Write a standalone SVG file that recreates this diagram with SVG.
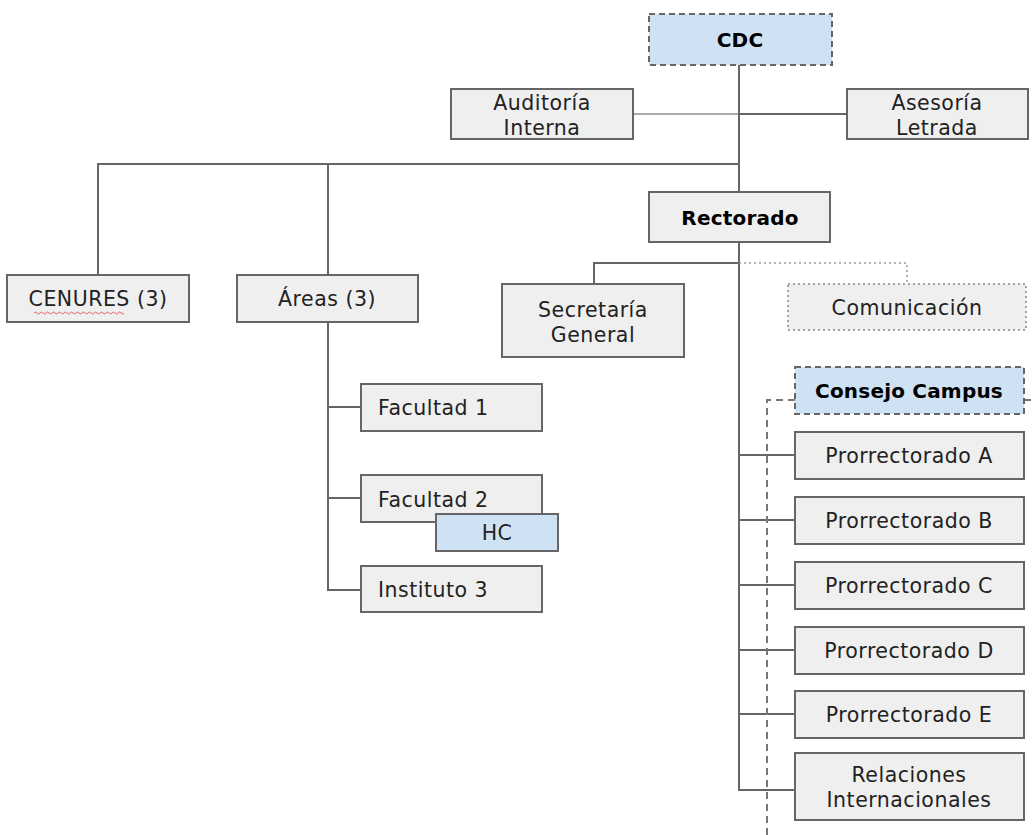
<svg xmlns="http://www.w3.org/2000/svg" width="1036" height="835" viewBox="0 0 1036 835">
<style>
.box{fill:#efefef;stroke:#666;stroke-width:2}
.blue{fill:#cfe2f3;stroke:#666;stroke-width:2;stroke-dasharray:6 4}
.dot{fill:#efefef;stroke:#888;stroke-width:1.5;stroke-dasharray:2 3}
.ln{stroke:#666;stroke-width:2;fill:none}
.lt{stroke:#aaa;stroke-width:2;fill:none}
.dsh{stroke:#777;stroke-width:2;fill:none;stroke-dasharray:7 5}
.dt{stroke:#999;stroke-width:1.5;fill:none;stroke-dasharray:2 3}
text{font-family:"DejaVu Sans","Open Sans",sans-serif;font-size:20.5px;letter-spacing:0.5px;fill:#222;text-anchor:middle;dominant-baseline:central}
.b{font-weight:bold;fill:#000;font-size:20px;letter-spacing:0.2px}
.l{text-anchor:start}
</style>
<rect width="1036" height="835" fill="#fff"/>
<g id="connectors">
<line class="lt" x1="633" y1="114" x2="739" y2="114"/>
<line class="ln" x1="739" y1="114" x2="847" y2="114"/>
<line class="ln" x1="739" y1="65" x2="739" y2="192"/>
<polyline class="ln" points="98,275 98,164 739,164"/>
<line class="ln" x1="328" y1="164" x2="328" y2="275"/>
<line class="ln" x1="739" y1="242" x2="739" y2="791"/>
<polyline class="ln" points="594,284 594,263 739,263"/>
<polyline class="dt" points="739,263 907,263 907,284"/>
<line class="ln" x1="739" y1="455" x2="795" y2="455"/>
<line class="ln" x1="739" y1="520" x2="795" y2="520"/>
<line class="ln" x1="739" y1="585" x2="795" y2="585"/>
<line class="ln" x1="739" y1="650" x2="795" y2="650"/>
<line class="ln" x1="739" y1="714" x2="795" y2="714"/>
<line class="ln" x1="738" y1="790" x2="795" y2="790"/>
<polyline class="dsh" points="795,400 767,400 767,835"/>
<line class="dsh" x1="1024" y1="400" x2="1036" y2="400"/>
<line class="ln" x1="328" y1="322" x2="328" y2="590"/>
<line class="ln" x1="328" y1="407" x2="361" y2="407"/>
<line class="ln" x1="328" y1="498" x2="361" y2="498"/>
<line class="ln" x1="327" y1="590" x2="361" y2="590"/>
</g>
<g id="cdc"><rect class="blue" x="649" y="14" width="183" height="51"/><text class="b" x="740" y="40">CDC</text></g>
<g id="auditoria"><rect class="box" x="451" y="89" width="182" height="50"/><text x="542" y="103">Auditoría</text><text x="542" y="128">Interna</text></g>
<g id="asesoria"><rect class="box" x="847" y="89" width="181" height="50"/><text x="937" y="103">Asesoría</text><text x="937" y="128">Letrada</text></g>
<g id="rectorado"><rect class="box" x="649" y="192" width="181" height="50"/><text class="b" x="740" y="218">Rectorado</text></g>
<g id="cenures"><rect class="box" x="7" y="275" width="182" height="47"/><text x="98" y="299">CENURES (3)</text><path d="M34 313 q1.5 -2 3 0 t3 0 t3 0 t3 0 t3 0 t3 0 t3 0 t3 0 t3 0 t3 0 t3 0 t3 0 t3 0 t3 0 t3 0 t3 0 t3 0 t3 0 t3 0 t3 0 t3 0 t3 0 t3 0 t3 0 t3 0 t3 0 t3 0 t3 0 t3 0 t3 0" fill="none" stroke="#e06666" stroke-width="1"/></g>
<g id="areas"><rect class="box" x="237" y="275" width="181" height="47"/><text x="327" y="299">Áreas (3)</text></g>
<g id="secretaria"><rect class="box" x="502" y="284" width="182" height="73"/><text x="593" y="310">Secretaría</text><text x="593" y="335">General</text></g>
<g id="comunicacion"><rect class="dot" x="788" y="284" width="238" height="46"/><text x="907" y="308">Comunicación</text></g>
<g id="consejo"><rect class="blue" x="795" y="367" width="229" height="47"/><text class="b" x="909" y="391">Consejo Campus</text></g>
<g id="prA"><rect class="box" x="795" y="432" width="229" height="47"/><text x="909" y="456">Prorrectorado A</text></g>
<g id="prB"><rect class="box" x="795" y="497" width="229" height="47"/><text x="909" y="521">Prorrectorado B</text></g>
<g id="prC"><rect class="box" x="795" y="562" width="229" height="47"/><text x="909" y="586">Prorrectorado C</text></g>
<g id="prD"><rect class="box" x="795" y="627" width="229" height="47"/><text x="909" y="651">Prorrectorado D</text></g>
<g id="prE"><rect class="box" x="795" y="691" width="229" height="47"/><text x="909" y="715">Prorrectorado E</text></g>
<g id="relaciones"><rect class="box" x="795" y="753" width="229" height="67"/><text x="909" y="775">Relaciones</text><text x="909" y="800">Internacionales</text></g>
<g id="facultad1"><rect class="box" x="361" y="384" width="181" height="47"/><text class="l" x="378" y="408">Facultad 1</text></g>
<g id="facultad2"><rect class="box" x="361" y="475" width="181" height="47"/><text class="l" x="378" y="500">Facultad 2</text></g>
<g id="hc"><rect class="box" style="fill:#cfe2f3" x="436" y="514" width="122" height="37"/><text x="497" y="533">HC</text></g>
<g id="instituto3"><rect class="box" x="361" y="566" width="181" height="46"/><text class="l" x="378" y="590">Instituto 3</text></g>
</svg>
